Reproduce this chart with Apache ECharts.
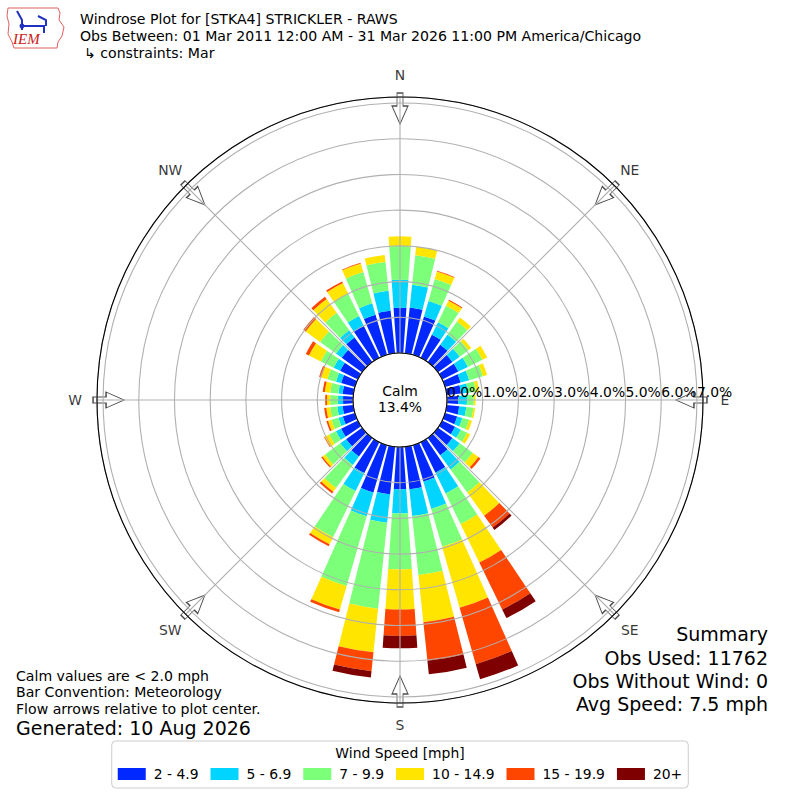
<!DOCTYPE html>
<html>
<head>
<meta charset="utf-8">
<script src="https://cdn.jsdelivr.net/npm/echarts@6/dist/echarts.min.js"></script>
<style>html,body{margin:0;padding:0;background:#fff}#chart{width:800px;height:800px}</style>
</head>
<body>
<div id="chart"></div>
<script>
// ---- data (percent of observations) ----
const directions = ['0','10','20','30','40','50','60','70','80','90','100','110','120','130','140','150','160','170',
                    '180','190','200','210','220','230','240','250','260','270','280','290','300','310','320','330','340','350'];
const speedBins = ['2 - 4.9', '5 - 6.9', '7 - 9.9', '10 - 14.9', '15 - 19.9', '20+'];
const binColors = ['#0028ff', '#00d4ff', '#7cff79', '#ffe500', '#ff4600', '#7f0000'];
const spd_2_5   = [1.27,1.29,1.12,0.72,0.60,0.50,0.50,0.45,0.40,0.32,0.35,0.35,0.40,0.50,0.60,0.95,1.06,1.20,1.18,1.34,1.38,0.96,0.64,0.55,0.52,0.35,0.30,0.28,0.30,0.40,0.55,0.70,0.85,1.00,1.17,1.20];
const spd_5_7   = [0.78,0.64,0.45,0.39,0.35,0.25,0.30,0.25,0.20,0.24,0.20,0.15,0.18,0.25,0.49,0.65,0.80,0.75,0.68,0.80,0.69,0.56,0.29,0.20,0.16,0.13,0.15,0.14,0.12,0.15,0.20,0.20,0.25,0.30,0.33,0.56];
const spd_7_10  = [0.95,0.83,0.64,0.51,0.45,0.30,0.45,0.40,0.22,0.19,0.20,0.20,0.20,0.45,0.80,0.95,1.10,1.66,1.57,2.42,2.03,1.44,0.80,0.53,0.21,0.20,0.20,0.22,0.23,0.25,0.40,0.55,0.60,0.70,0.91,0.81];
const spd_10_15 = [0.27,0.24,0.22,0.16,0.14,0.10,0.15,0.12,0.09,0.05,0.05,0.08,0.09,0.20,0.80,1.20,1.78,1.33,1.12,1.23,0.69,0.22,0.13,0.09,0.14,0.10,0.11,0.09,0.15,0.18,0.37,0.50,0.48,0.33,0.25,0.20];
const spd_15_20 = [0,0,0.02,0.03,0,0,0,0,0,0,0,0,0,0.07,0.41,1.46,1.64,1.09,0.74,0.53,0.08,0.06,0.06,0.04,0.02,0.05,0.06,0.05,0.06,0.06,0.10,0.08,0.08,0.05,0.02,0];
const spd_20p   = [0,0,0,0,0,0,0,0,0,0,0,0,0,0,0.08,0.27,0.44,0.38,0.35,0.18,0,0,0,0,0,0,0,0,0,0,0,0,0,0,0,0];
const radiusMaxPct = 7.17;
const radiusTickStep = 1;
const compassNames = ['N','NE','E','SE','S','SW','W','NW'];
const compassBearings = [0,45,90,135,180,225,270,315];
const arrowRadiusPct = 6.85;
const labelRadiusPct = 7.79;
const calmPct = 13.4;
const titleLines = ['Windrose Plot for [STKA4] STRICKLER - RAWS',
                    'Obs Between: 01 Mar 2011 12:00 AM - 31 Mar 2026 11:00 PM America/Chicago',
                    '\u21b3 constraints: Mar'];
const summaryLines = ['Summary', 'Obs Used: 11762', 'Obs Without Wind: 0', 'Avg Speed: 7.5 mph'];
const noteLines = ['Calm values are < 2.0 mph', 'Bar Convention: Meteorology', 'Flow arrows relative to plot center.'];
const generatedLine = 'Generated: 10 Aug 2026';
const legendTitle = 'Wind Speed [mph]';

const speedSeries = [spd_2_5, spd_5_7, spd_7_10, spd_10_15, spd_15_20, spd_20p];
const FONT = '"DejaVu Sans", Verdana, sans-serif';
const GRID = '#b0b0b0';
const SMALL = '14.1px ';
const BIG = '19px ';

const chart = echarts.init(document.getElementById('chart'), null, {renderer: 'svg'});

const barSeries = speedBins.map((name, i) => ({
  name: name,
  type: 'bar',
  coordinateSystem: 'polar',
  polarIndex: 1,
  stack: 'total',
  barCategoryGap: '20%',
  itemStyle: {color: binColors[i]},
  emphasis: {disabled: true},
  data: speedSeries[i],
  z: 2
}));

const arrowPath = 'path://M5,0 L11,0 L11,13 L16,13 L8,31 L0,13 L5,13 Z';

chart.setOption({
  animation: false,
  backgroundColor: '#fff',
  textStyle: {fontFamily: FONT},
  title: [{
    text: legendTitle, left: 'center', top: 746, padding: 0,
    textStyle: {fontFamily: FONT, fontSize: 13.9, fontWeight: 'normal', color: '#000'}
  }],
  legend: {
    data: speedBins,
    left: 'center', top: 741,
    icon: 'rect', itemWidth: 28, itemHeight: 12, itemGap: 12,
    padding: [26, 6, 7, 6],
    backgroundColor: '#fff', borderColor: '#cccccc', borderWidth: 1, borderRadius: 4,
    selectedMode: false,
    textStyle: {fontFamily: FONT, fontSize: 13.9, color: '#000', padding: [0, 0, 0, 3]}
  },
  polar: [
    {center: ['50%', '50%'], radius: [47, 303]},
    {center: ['50%', '50%'], radius: [47, 303]},
    {center: ['50%', '50%'], radius: [47, 325]}
  ],
  angleAxis: [
    { // grid polar: spokes every 45 deg, black rings
      polarIndex: 0, type: 'value', min: 0, max: 360, interval: 45, startAngle: 0, clockwise: true,
      z: 6,
      axisLine: {show: true, lineStyle: {color: '#000', width: 1.1}},
      axisTick: {show: false}, axisLabel: {show: false},
      splitLine: {show: true, lineStyle: {color: GRID, width: 1.1}}
    },
    { // bars polar
      polarIndex: 1, type: 'category', data: directions, startAngle: 95, clockwise: true,
      axisLine: {show: false}, axisTick: {show: false}, axisLabel: {show: false},
      splitLine: {show: false}
    },
    { // arrows & compass labels
      polarIndex: 2, type: 'value', min: 0, max: 360, startAngle: 90, clockwise: true,
      axisLine: {show: false}, axisTick: {show: false}, axisLabel: {show: false},
      splitLine: {show: false}
    }
  ],
  radiusAxis: [
    {
      polarIndex: 0, type: 'value', min: 0, max: radiusMaxPct, interval: radiusTickStep,
      z: 5,
      axisLine: {show: false}, axisTick: {show: false},
      axisLabel: {
        show: true, align: 'left', verticalAlign: 'bottom', margin: 1,
        fontFamily: FONT, fontSize: 13.9, color: '#000',
        formatter: v => (Math.abs(v - Math.round(v)) < 1e-9 ? v.toFixed(1) + '%' : '')
      },
      splitLine: {show: true, lineStyle: {color: GRID, width: 1.1}}
    },
    {
      polarIndex: 1, type: 'value', min: 0, max: radiusMaxPct,
      axisLine: {show: false}, axisTick: {show: false}, axisLabel: {show: false}, splitLine: {show: false}
    },
    {
      polarIndex: 2, type: 'value', min: 0, max: labelRadiusPct,
      axisLine: {show: false}, axisTick: {show: false}, axisLabel: {show: false}, splitLine: {show: false}
    }
  ],
  series: barSeries.concat([
    {
      name: 'arrows', type: 'scatter', coordinateSystem: 'polar', polarIndex: 2,
      symbol: arrowPath, symbolSize: [16, 31],
      itemStyle: {color: '#fff', borderColor: '#222', borderWidth: 1.1},
      emphasis: {disabled: true}, silent: true, z: 1,
      data: compassBearings.map(b => ({value: [arrowRadiusPct, b], symbolRotate: -b}))
    },
    {
      name: 'compass', type: 'scatter', coordinateSystem: 'polar', polarIndex: 2,
      symbolSize: 1, itemStyle: {color: 'rgba(0,0,0,0)'},
      emphasis: {disabled: true}, silent: true, z: 7,
      label: {show: true, position: 'inside', formatter: p => p.name,
              fontFamily: FONT, fontSize: 13.9, color: '#000'},
      data: compassBearings.map((b, i) => ({name: compassNames[i], value: [labelRadiusPct, b]}))
    }
  ]),
  graphic: [
    // IEM logo (approximate)
    {type: 'polygon', shape: {points: [[8,8],[58,8],[60,13],[59,20],[64,27],[62,36],[58,42],[57,48],[14,48],[12,42],[8,34],[9,24],[7,16]]},
     style: {fill: 'none', stroke: '#e06060', lineWidth: 1}},
    {type: 'polyline', shape: {points: [[17,11],[22,20],[22,30]]}, style: {stroke: '#2030c0', lineWidth: 2, fill: 'none'}},
    {type: 'polyline', shape: {points: [[22,26],[44,26],[44,33]]}, style: {stroke: '#2030c0', lineWidth: 2, fill: 'none'}},
    {type: 'polyline', shape: {points: [[38,16],[46,20],[46,26]]}, style: {stroke: '#2030c0', lineWidth: 2, fill: 'none'}},
    {type: 'circle', shape: {cx: 22, cy: 26, r: 2.5}, style: {fill: '#2030c0'}},
    {type: 'text', left: 13, top: 31, style: {text: 'IEM', font: 'italic 15px "Liberation Serif", serif', fill: '#cc2020'}},
    // titles
    {type: 'text', left: 80, top: 12, style: {text: titleLines[0], font: SMALL + FONT, fill: '#000'}},
    {type: 'text', left: 80, top: 29, style: {text: titleLines[1], font: SMALL + FONT, fill: '#000'}},
    {type: 'text', left: 84, top: 46, style: {text: titleLines[2], font: SMALL + FONT, fill: '#000'}},
    // calm
    {type: 'text', x: 400, y: 399, style: {text: 'Calm\n' + calmPct.toFixed(1) + '%', align: 'center', verticalAlign: 'middle',
      font: '13.9px ' + FONT, lineHeight: 16, fill: '#000'}, z: 10},
    // summary
    {type: 'text', right: 32, top: 624, style: {text: summaryLines[0], font: BIG + FONT, fill: '#000'}},
    {type: 'text', right: 32, top: 648, style: {text: summaryLines[1], font: BIG + FONT, fill: '#000'}},
    {type: 'text', right: 32, top: 671, style: {text: summaryLines[2], font: BIG + FONT, fill: '#000'}},
    {type: 'text', right: 32, top: 694, style: {text: summaryLines[3], font: BIG + FONT, fill: '#000'}},
    // notes
    {type: 'text', left: 16, top: 669, style: {text: noteLines[0], font: SMALL + FONT, fill: '#000'}},
    {type: 'text', left: 16, top: 685, style: {text: noteLines[1], font: SMALL + FONT, fill: '#000'}},
    {type: 'text', left: 16, top: 702, style: {text: noteLines[2], font: SMALL + FONT, fill: '#000'}},
    {type: 'text', left: 16, top: 718, style: {text: generatedLine, font: BIG + FONT, fill: '#000'}}
  ]
});
</script>
</body>
</html>
